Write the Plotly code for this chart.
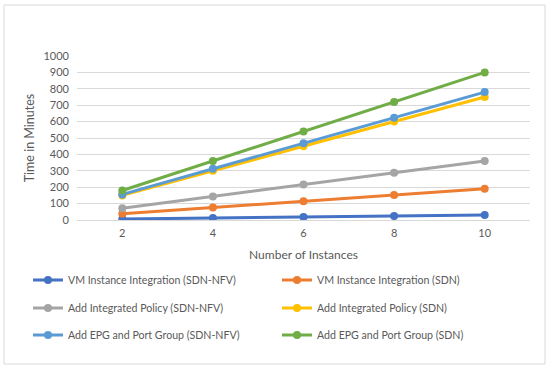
import plotly.graph_objects as go

instances = ["2", "4", "6", "8", "10"]
series_names = [
    "VM Instance Integration (SDN-NFV)",
    "VM Instance Integration (SDN)",
    "Add Integrated Policy (SDN-NFV)",
    "Add Integrated Policy (SDN)",
    "Add EPG and Port Group (SDN-NFV)",
    "Add EPG and Port Group (SDN)",
]
vm_sdn_nfv = [6, 12, 18, 24, 30]
vm_sdn = [38, 76, 114, 152, 190]
policy_sdn_nfv = [72, 144, 216, 288, 360]
policy_sdn = [150, 300, 450, 600, 750]
epg_sdn_nfv = [156, 312, 468, 624, 780]
epg_sdn = [180, 360, 540, 720, 900]
y_ticks = [0, 100, 200, 300, 400, 500, 600, 700, 800, 900, 1000]

colors = ["#4472C4", "#ED7D31", "#A5A5A5", "#FFC000", "#5B9BD5", "#70AD47"]
all_series = [vm_sdn_nfv, vm_sdn, policy_sdn_nfv, policy_sdn, epg_sdn_nfv, epg_sdn]
legend_ids = ["legend", "legend", "legend2", "legend2", "legend3", "legend3"]

fig = go.Figure()
for name, vals, c, lg in zip(series_names, all_series, colors, legend_ids):
    fig.add_trace(go.Scatter(
        x=instances, y=vals, name=name, mode="lines+markers",
        line=dict(color=c, width=3), marker=dict(color=c, size=8),
        legend=lg,
    ))

L, R, T, B = 77, 20, 56, 151
W, H = 550, 371
pw, ph = W - L - R, H - T - B

def px(x):
    return (x - L) / pw

def py(y):
    return (H - B - y) / ph

fig.add_shape(type="rect", xref="paper", yref="paper",
              x0=px(4), x1=px(545), y0=py(364), y1=py(5),
              line=dict(color="#D9D9D9", width=1), fillcolor="rgba(0,0,0,0)", layer="below")

font_color = "#595959"
FONT = "Lato"

def leg(yc):
    return dict(orientation="h", x=px(28), y=py(yc), xanchor="left", yanchor="middle",
                entrywidth=204, entrywidthmode="pixels",
                font=dict(family=FONT, size=10.6, color=font_color),
                itemwidth=30, bgcolor="rgba(0,0,0,0)")

fig.update_layout(
    width=W, height=H,
    margin=dict(l=L, r=R, t=T, b=B, autoexpand=False),
    paper_bgcolor="white", plot_bgcolor="white",
    font=dict(family=FONT, size=11, color=font_color),
    xaxis=dict(type="category", range=[-0.5, 4.5], showgrid=False, showline=False,
               ticks="", tickfont=dict(size=11, color=font_color), ticklabelstandoff=5,
               title=dict(text="Number of Instances", font=dict(size=12, color=font_color), standoff=12)),
    yaxis=dict(range=[0, 1000], tickvals=y_ticks, showgrid=True, gridcolor="#D9D9D9", gridwidth=1,
               zeroline=True, zerolinecolor="#D9D9D9", zerolinewidth=1, showline=False, ticks="",
               tickfont=dict(size=11, color=font_color), ticklabelstandoff=7,
               title=dict(text="Time in Minutes", font=dict(size=12.5, color=font_color), standoff=6)),
    legend=leg(280),
    legend2=leg(308),
    legend3=leg(335),
    showlegend=True,
)

fig.write_html("out.html", config={"displayModeBar": False},
               post_script="document.body.style.margin='0';")
